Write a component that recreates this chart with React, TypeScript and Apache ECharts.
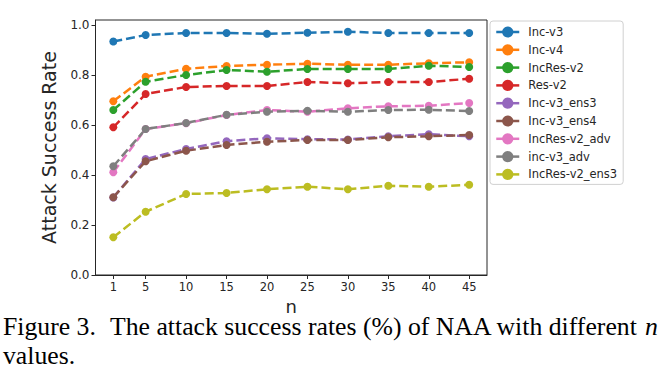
import React, { useEffect, useRef } from "react";
import * as echarts from "echarts";

const xValues = [1, 5, 10, 15, 20, 25, 30, 35, 40, 45];
const yTicks = [0, 0.2, 0.4, 0.6, 0.8, 1.0];

const seriesNames = [
  "Inc-v3",
  "Inc-v4",
  "IncRes-v2",
  "Res-v2",
  "Inc-v3_ens3",
  "Inc-v3_ens4",
  "IncRes-v2_adv",
  "inc-v3_adv",
  "IncRes-v2_ens3",
];

const incV3 = [0.934, 0.96, 0.968, 0.968, 0.965, 0.969, 0.973, 0.968, 0.968, 0.968];
const incV4 = [0.695, 0.793, 0.825, 0.836, 0.841, 0.845, 0.841, 0.841, 0.847, 0.851];
const incResV2 = [0.66, 0.773, 0.8, 0.82, 0.813, 0.824, 0.824, 0.824, 0.837, 0.832];
const resV2 = [0.591, 0.724, 0.752, 0.756, 0.756, 0.772, 0.767, 0.772, 0.772, 0.785];
const incV3Ens3 = [0.31, 0.464, 0.504, 0.535, 0.547, 0.543, 0.542, 0.555, 0.563, 0.555];
const incV3Ens4 = [0.311, 0.455, 0.497, 0.52, 0.533, 0.54, 0.54, 0.551, 0.555, 0.56];
const incResV2Adv = [0.411, 0.584, 0.607, 0.64, 0.66, 0.653, 0.667, 0.675, 0.677, 0.688];
const incV3Adv = [0.435, 0.584, 0.608, 0.641, 0.653, 0.657, 0.653, 0.66, 0.661, 0.656];
const incResV2Ens3 = [0.151, 0.253, 0.324, 0.328, 0.343, 0.353, 0.343, 0.357, 0.353, 0.361];

const seriesValues = [
  incV3,
  incV4,
  incResV2,
  resV2,
  incV3Ens3,
  incV3Ens4,
  incResV2Adv,
  incV3Adv,
  incResV2Ens3,
];

const colors = [
  "#1f77b4",
  "#ff7f0e",
  "#2ca02c",
  "#d62728",
  "#9467bd",
  "#8c564b",
  "#e377c2",
  "#7f7f7f",
  "#bcbd22",
];

const yAxisTitle = "Attack Success Rate";
const xAxisTitle = "n";
const captionLine1a = "Figure 3.";
const captionLine1b = "The attack success rates (%) of NAA with different";
const captionLine1c = "n";
const captionLine2 = "values.";

export default function App() {
  const ref = useRef<HTMLDivElement>(null);

  useEffect(() => {
    if (!ref.current) return;
    const chart = echarts.init(ref.current, null, { renderer: "svg" });
    const sans = "DejaVu Sans";
    const serif = "Liberation Serif";
    const textColor = "#262626";
    const capFont = `25px "${serif}"`;
    const capScale = 1.03;

    const option: any = {
      animation: false,
      backgroundColor: "#ffffff",
      color: colors,
      grid: {
        left: 95.5,
        top: 20,
        right: 183,
        bottom: 97,
        show: true,
        borderColor: "#262626",
        borderWidth: 1,
        backgroundColor: "transparent",
      },
      legend: {
        orient: "vertical",
        left: 490,
        top: 21,
        itemWidth: 23,
        itemHeight: 14,
        itemGap: 3.8,
        padding: [4, 6, 3, 5],
        backgroundColor: "#ffffff",
        borderColor: "#d0d0d0",
        borderWidth: 1,
        borderRadius: 3,
        lineStyle: { type: "solid", width: 2.5 },
        textStyle: {
          fontFamily: sans,
          fontSize: 11.5,
          lineHeight: 14,
          color: textColor,
          padding: [0, 0, 0, 4],
        },
        data: seriesNames,
      },
      xAxis: {
        type: "value",
        min: -1.2,
        max: 47.2,
        name: xAxisTitle,
        nameLocation: "middle",
        nameGap: 19,
        nameTextStyle: { fontFamily: sans, fontSize: 18, lineHeight: 18, color: textColor },
        axisLine: { show: true, onZero: false, lineStyle: { color: "#262626", width: 1 } },
        axisTick: {
          show: true,
          length: 4,
          customValues: xValues,
          lineStyle: { color: "#262626" },
        },
        axisLabel: {
          customValues: xValues,
          fontFamily: sans,
          fontSize: 11.5,
          color: textColor,
          margin: 6,
        },
        splitLine: { show: false },
      },
      yAxis: {
        type: "value",
        min: 0,
        max: 1.02,
        name: yAxisTitle,
        nameLocation: "middle",
        nameGap: 37,
        nameTextStyle: { fontFamily: sans, fontSize: 19, color: textColor },
        axisLine: { show: true, onZero: false, lineStyle: { color: "#262626", width: 1 } },
        axisTick: {
          show: true,
          length: 4,
          customValues: yTicks,
          lineStyle: { color: "#262626" },
        },
        axisLabel: {
          customValues: yTicks,
          formatter: (v: number) => v.toFixed(1),
          fontFamily: sans,
          fontSize: 12,
          color: textColor,
          margin: 6,
        },
        splitLine: { show: false },
      },
      series: seriesNames.map((name, i) => ({
        name,
        type: "line",
        data: xValues.map((x, j) => [x, seriesValues[i][j]]),
        symbol: "circle",
        symbolSize: 8,
        showSymbol: true,
        lineStyle: { width: 2.5, type: [9, 4], color: colors[i] },
        itemStyle: { color: colors[i] },
        emphasis: { disabled: true },
      })),
      graphic: [
        {
          type: "text",
          x: 3,
          y: 314,
          scaleX: capScale,
          style: { text: captionLine1a, font: capFont, fill: "#000" },
        },
        {
          type: "text",
          x: 110,
          y: 314,
          scaleX: capScale,
          style: { text: captionLine1b, font: capFont, fill: "#000" },
        },
        {
          type: "text",
          x: 645,
          y: 314,
          scaleX: capScale,
          style: { text: captionLine1c, font: `italic 25px "${serif}"`, fill: "#000" },
        },
        {
          type: "text",
          x: 3,
          y: 342.5,
          scaleX: capScale,
          style: { text: captionLine2, font: capFont, fill: "#000" },
        },
      ],
    };

    chart.setOption(option);
    return () => chart.dispose();
  }, []);

  return (
    <div
      ref={ref}
      style={{ position: "fixed", left: 0, top: 0, width: 670, height: 372 }}
    />
  );
}
